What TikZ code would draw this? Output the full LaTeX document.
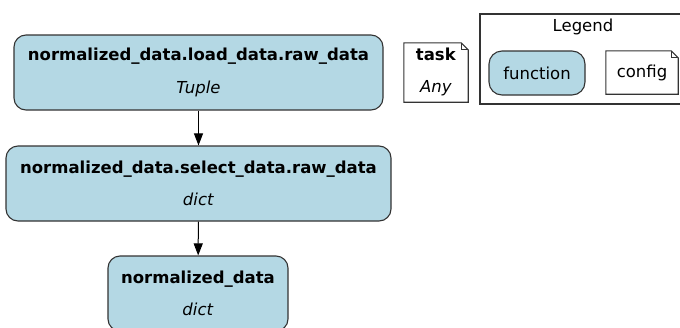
\documentclass[tikz,border=0pt]{standalone}
\usepackage{fontspec}
\setmainfont{DejaVu Sans}
\usetikzlibrary{arrows.meta}
\definecolor{fnfill}{HTML}{B4D8E4}
\definecolor{edge}{HTML}{333333}
\tikzset{
  fnbox/.style={draw=edge, fill=fnfill, rounded corners=12pt, line width=1.1pt, align=center,
    inner sep=0pt, font=\fontsize{16.5}{32.5}\selectfont},
  notebox/.style={inner sep=0pt, align=center, font=\fontsize{16.5}{32.5}\selectfont},
  legendbox/.style={draw=edge, line width=1.1pt, inner sep=0pt},
  conn/.style={-{Triangle[length=12pt,width=9pt]}, line width=1pt, black},
}
\newcommand{\drawnote}[1]{%
  \draw[edge, line width=1.1pt, fill=white] (#1.north west) -- ([xshift=-7pt]#1.north east) -- ([yshift=-7pt]#1.north east) -- (#1.south east) -- (#1.south west) -- cycle;
  \draw[edge, line width=1.1pt] ([xshift=-7pt]#1.north east) -- ([xshift=-7pt,yshift=-7pt]#1.north east) -- ([yshift=-7pt]#1.north east);
}
\begin{document}
\begin{tikzpicture}[x=1pt,y=-1pt]
\useasboundingbox (0,0) rectangle (680,327);
\clip (0,0) rectangle (680,327);
\node[fnbox, minimum width=369pt, minimum height=75pt] (load) at (198.5,72.5)
  {\textbf{normalized\_data.load\_data.raw\_data}\\\textit{Tuple}};
\node[fnbox, minimum width=385pt, minimum height=75pt] (select) at (198.5,183.5)
  {\textbf{normalized\_data.select\_data.raw\_data}\\\textit{dict}};
\node[fnbox, minimum width=180pt, minimum height=75pt] (norm) at (198,293.5)
  {\textbf{normalized\_data}\\\textit{dict}};
\draw[conn] (load) -- (select);
\draw[conn] (select) -- (norm);
% task note
\node[notebox, minimum width=64pt, minimum height=59pt] (task) at (436,72.5) {};
\drawnote{task}
\node[notebox] (tasktext) at ([yshift=0.5pt]task.center) {\textbf{task}\\\textit{Any}};
% legend
\node[legendbox, minimum width=203pt, minimum height=90pt] (legend) at (581.5,59) {};
\node[font=\fontsize{16.5}{20}\selectfont, inner sep=0pt] (legendtitle) at (583,27) {Legend};
\node[fnbox, rounded corners=13pt, minimum width=96pt, minimum height=44pt, font=\fontsize{16.5}{20}\selectfont] (fn) at (537,73) {function};
\node[notebox, minimum width=72pt, minimum height=43pt] (cfg) at (642,72.5) {};
\drawnote{cfg}
\node[notebox, font=\fontsize{16.5}{20}\selectfont] (cfgtext) at (cfg) {config};
\end{tikzpicture}
\end{document}
